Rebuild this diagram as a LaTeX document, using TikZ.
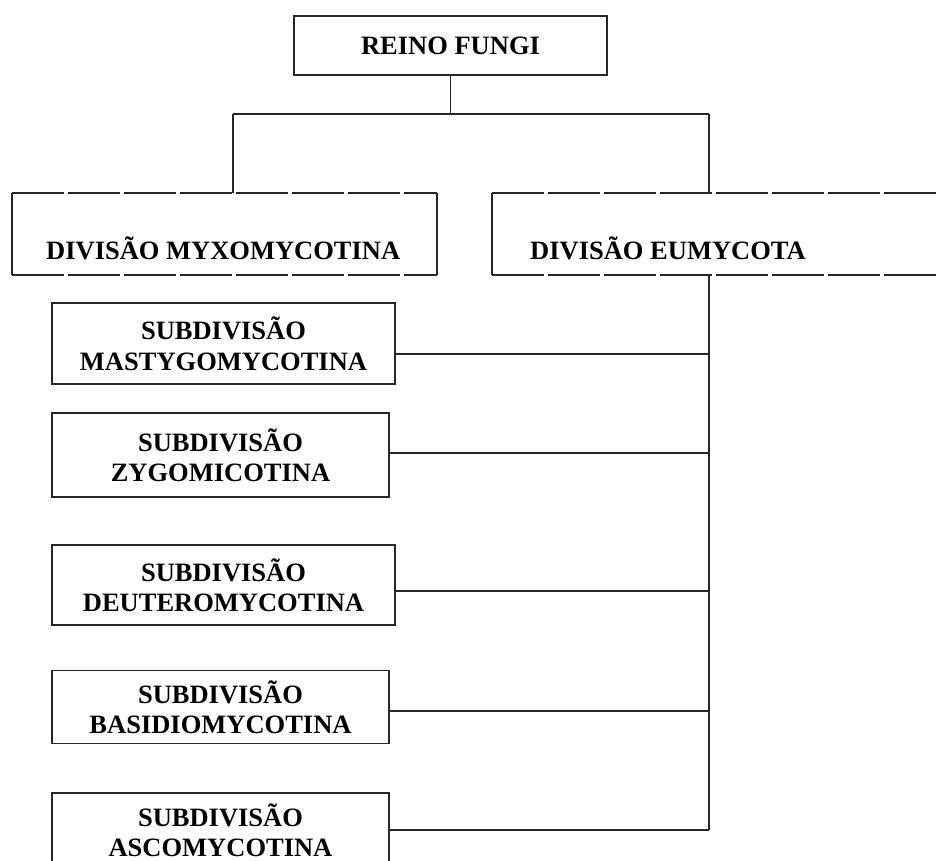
\documentclass[tikz,border=0pt]{standalone}
\usepackage{fontspec}
\setmainfont{Liberation Serif}
\usetikzlibrary{calc}
\begin{document}
\begin{tikzpicture}[x=1pt,y=1pt,
  ln/.style={line width=1.6pt, draw=black!85},
  brk/.style={ln, dash pattern=on 52pt off 4pt},
  boxshape/.style={ln, draw, rectangle, inner sep=0pt},
  lbl/.style={font=\bfseries\fontsize{26.5}{30.5}\selectfont, inner sep=0pt, align=center},
  ghost/.style={rectangle, inner sep=0pt}
]
\useasboundingbox (0,0) rectangle (939,-861);
% top
\node[boxshape, lbl, minimum width=313, minimum height=59] (fungi) at (450.5,-45.5) {REINO FUNGI};
% divisions
\node[ghost, minimum width=425, minimum height=82] (myxo) at (224.5,-234) {};
\node[lbl, anchor=base west] (myxot) at (46,-259) {DIVISÃO MYXOMYCOTINA};
\node[ghost, minimum width=468, minimum height=82] (eumy) at (726,-234) {};
\node[lbl, anchor=base west] (eumyt) at (530,-259) {DIVISÃO EUMYCOTA};
\draw[ln] (myxo.north west) -- (myxo.south west);
\draw[ln] (myxo.north east) -- (myxo.south east);
\draw[brk] (myxo.north west) -- (myxo.north east);
\draw[brk] (myxo.south west) -- (myxo.south east);
\draw[ln] (eumy.north west) -- (eumy.south west);
\draw[brk] (eumy.north west) -- (eumy.north east);
\draw[brk] (eumy.south west) -- (eumy.south east);
% subdivisions
\node[boxshape, lbl, minimum width=343, minimum height=81] (s1) at (223.5,-343.5) {SUBDIVISÃO\\MASTYGOMYCOTINA};
\node[boxshape, lbl, minimum width=337, minimum height=84] (s2) at (220.5,-455) {SUBDIVISÃO\\ZYGOMICOTINA};
\node[boxshape, lbl, minimum width=343, minimum height=80] (s3) at (223.5,-585) {SUBDIVISÃO\\DEUTEROMYCOTINA};
\node[boxshape, lbl, minimum width=337, minimum height=73] (s4) at (220.5,-707) {SUBDIVISÃO\\BASIDIOMYCOTINA};
\node[ghost, minimum width=337, minimum height=100] (s5) at (220.5,-843) {};
\node[lbl, anchor=south] (s5t) at (220.5,-857) {SUBDIVISÃO\\ASCOMYCOTINA};
\draw[ln] (s5.south west) -- (s5.north west) -- (s5.north east) -- (s5.south east);
% connectors
\coordinate (barL) at (233,-114);
\coordinate (barR) at (709,-114);
\coordinate (trunkEnd) at (709,-830);
\draw[ln] (fungi.south) -- (fungi.south |- barL);
\draw[ln] (barL) -- (barR);
\draw[ln] (barL) -- (myxo.north -| barL);
\draw[ln] (barR) -- (eumy.north -| barR);
\draw[ln] (eumy.south -| barR) -- (trunkEnd);
\draw[ln] ($(s1.east)+(0,-10.5)$) -- ($(s1.east -| barR)+(0,-10.5)$);
\draw[ln] ($(s2.east)+(0,2)$) -- ($(s2.east -| barR)+(0,2)$);
\draw[ln] ($(s3.east)+(0,-6)$) -- ($(s3.east -| barR)+(0,-6)$);
\draw[ln] ($(s4.east)+(0,-4)$) -- ($(s4.east -| barR)+(0,-4)$);
\draw[ln] (s5.east |- trunkEnd) -- (trunkEnd);
\end{tikzpicture}
\end{document}
